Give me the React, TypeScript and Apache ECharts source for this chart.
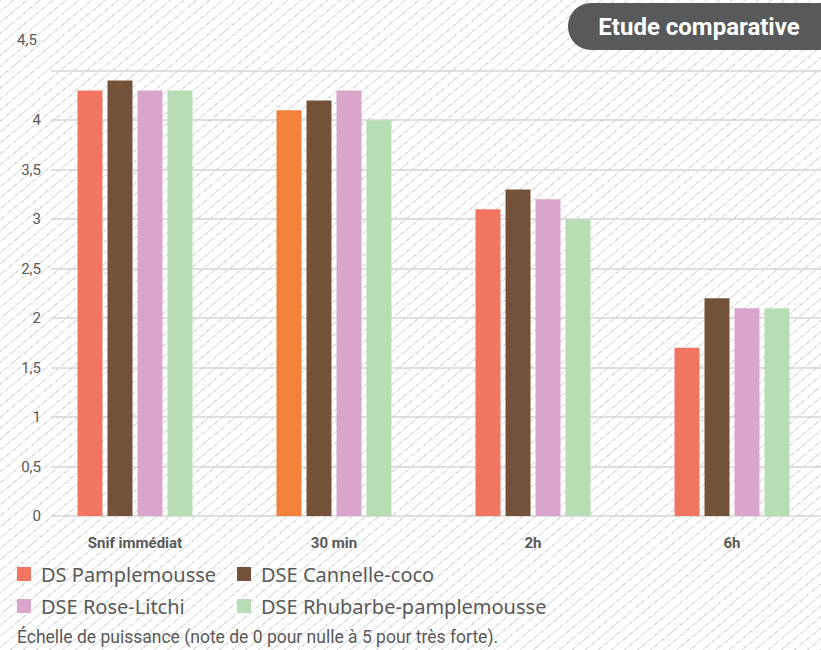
import React, { useEffect, useRef } from "react";
import * as echarts from "echarts";

const categories = ["Snif immédiat", "30 min", "2h", "6h"];
const seriesNames = ["DS Pamplemousse", "DSE Cannelle-coco", "DSE Rose-Litchi", "DSE Rhubarbe-pamplemousse"];
const dsPamplemousse = [4.3, 4.1, 3.1, 1.7];
const dseCannelleCoco = [4.4, 4.2, 3.3, 2.2];
const dseRoseLitchi = [4.3, 4.3, 3.2, 2.1];
const dseRhubarbe = [4.3, 4.0, 3.0, 2.1];
const seriesColors = ["#F27562", "#74523A", "#D9A5CB", "#B8DDB5"];
const highlightColor = "#F2823A";
const yTicks = { min: 0, max: 4.5, interval: 0.5 };
const badgeText = "Etude comparative";
const footnote = "Échelle de puissance (note de 0 pour nulle à 5 pour très forte).";

export default function App() {
  const ref = useRef<HTMLDivElement>(null);
  useEffect(() => {
    if (!ref.current) return;
    const chart = echarts.init(ref.current, null, { renderer: "svg" });
    const values = [dsPamplemousse, dseCannelleCoco, dseRoseLitchi, dseRhubarbe];
    const labelColor = "#595959";
    const fmt = (v: number) => String(v).replace(".", ",");
    const legendText = {
      color: labelColor,
      fontFamily: "Noto Sans",
      fontSize: 20,
      lineHeight: 20,
      padding: [0, 0, 0, 5],
    };
    chart.setOption({
      animation: false,
      backgroundColor: "transparent",
      grid: [
        { left: 51, right: 11, top: 70.7, bottom: 134 },
        { left: 35.5, width: 796, top: 70.7, bottom: 134 },
      ],
      xAxis: [
        { gridIndex: 0, type: "value", show: false, min: 0, max: 1 },
        {
          gridIndex: 1,
          type: "category",
          data: categories,
          axisLine: { show: false },
          axisTick: { show: false },
          axisLabel: {
            margin: 19,
            color: labelColor,
            fontFamily: "Roboto",
            fontWeight: "bold",
            fontSize: 15,
          },
        },
      ],
      yAxis: [
        {
          gridIndex: 0,
          type: "value",
          min: yTicks.min,
          max: yTicks.max,
          interval: yTicks.interval,
          axisLine: { show: false },
          axisTick: { show: false },
          splitLine: { lineStyle: { color: "#d4d4d4", width: 1.5 } },
          axisLabel: {
            margin: 10,
            color: labelColor,
            fontFamily: "Roboto",
            fontSize: 15,
            formatter: (v: number) => (v === yTicks.max ? "" : fmt(v)),
          },
        },
        {
          gridIndex: 1,
          type: "value",
          min: yTicks.min,
          max: yTicks.max,
          interval: yTicks.interval,
          show: false,
        },
      ],
      legend: [
        {
          data: [seriesNames[0], seriesNames[2]],
          orient: "vertical",
          left: 17,
          top: 564,
          padding: 0,
          icon: "rect",
          itemWidth: 14,
          itemHeight: 14,
          itemGap: 12,
          textStyle: legendText,
        },
        {
          data: [seriesNames[1], seriesNames[3]],
          orient: "vertical",
          left: 237,
          top: 564,
          padding: 0,
          icon: "rect",
          itemWidth: 14,
          itemHeight: 14,
          itemGap: 12,
          textStyle: legendText,
        },
      ],
      series: seriesNames.map((name, i) => ({
        name,
        type: "bar",
        xAxisIndex: 1,
        yAxisIndex: 1,
        barWidth: 25,
        barGap: "20%",
        itemStyle: { color: seriesColors[i] },
        data: values[i].map((v, j) =>
          i === 0 && j === 1 ? { value: v, itemStyle: { color: highlightColor } } : v
        ),
      })),
      graphic: [
        {
          type: "text",
          left: 17,
          top: 32,
          style: { text: fmt(yTicks.max), fill: labelColor, font: "15px Roboto" },
        },
        {
          type: "group",
          left: 568,
          top: 3,
          children: [
            { type: "rect", shape: { x: 0, y: 0, width: 280, height: 47, r: 23 }, style: { fill: "#58595b" } },
            {
              type: "text",
              x: 131,
              y: 24,
              style: {
                text: badgeText,
                fill: "#ffffff",
                font: "bold 24px Roboto",
                align: "center",
                verticalAlign: "middle",
              },
            },
          ],
        },
        {
          type: "text",
          left: 17,
          top: 628,
          style: { text: footnote, fill: labelColor, font: "17.5px Roboto" },
        },
      ],
    });
    return () => chart.dispose();
  }, []);
  return (
    <div
      style={{
        position: "fixed",
        left: 0,
        top: 0,
        width: 821,
        height: 650,
        overflow: "hidden",
        backgroundColor: "#ffffff",
        backgroundImage:
          "repeating-linear-gradient(140deg, #dcdcdc 0px, #dcdcdc 1px, #ffffff 1px, #ffffff 8.4px)",
      }}
    >
      <div ref={ref} style={{ width: 832, height: 650 }} />
    </div>
  );
}
